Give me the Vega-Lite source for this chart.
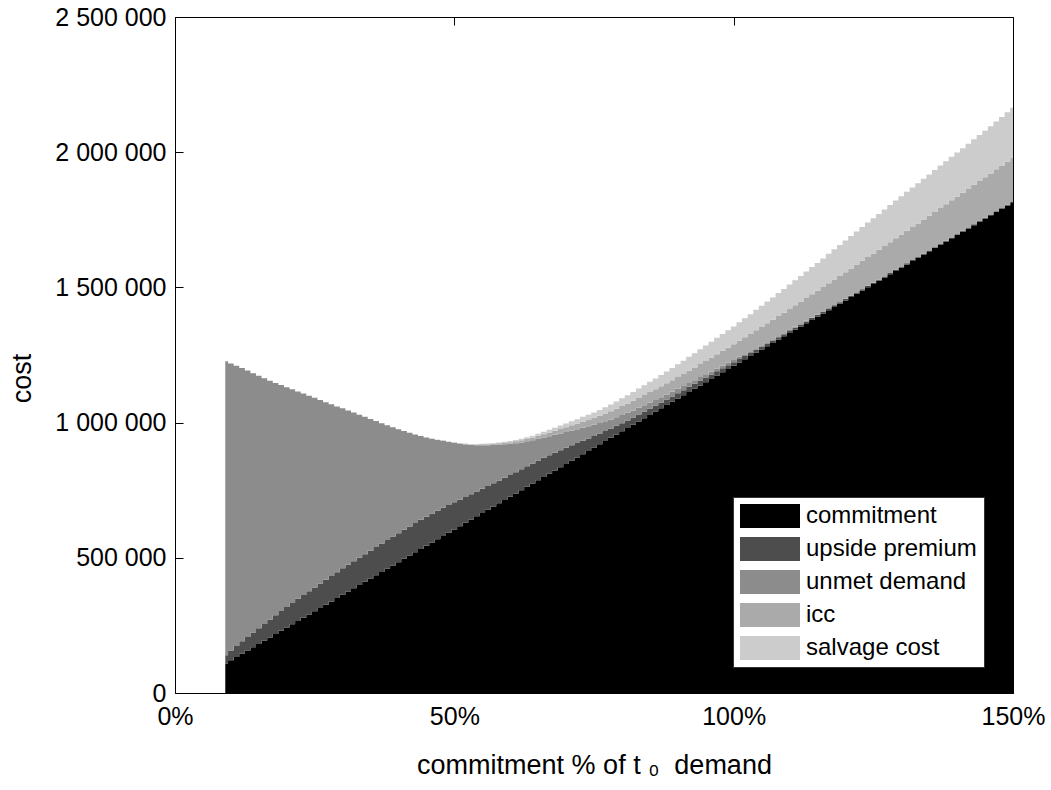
{
"$schema": "https://vega.github.io/schema/vega-lite/v6.json",
"width": 838, "height": 676,
"autosize": {"type": "none"},
"padding": {"left": 175, "top": 17, "right": 38, "bottom": 97},
"background": "white",
"config": {"view": {"stroke": null}, "font": "Liberation Sans"},
"datasets": {
"parts": [
{"key": "c", "part": "commitment", "rank": 1},
{"key": "u", "part": "upside premium", "rank": 2},
{"key": "d", "part": "unmet demand", "rank": 3},
{"key": "i", "part": "icc", "rank": 4},
{"key": "s", "part": "salvage cost", "rank": 5}
],
"costs": [
{"x":9,"c":108900,"u":31000,"d":1087000,"i":0,"s":0},
{"x":10,"c":121000,"u":36000,"d":1061500,"i":0,"s":0},
{"x":11,"c":133100,"u":41000,"d":1036000,"i":0,"s":0},
{"x":12,"c":145200,"u":46000,"d":1010500,"i":0,"s":0},
{"x":13,"c":157300,"u":50000,"d":985000,"i":0,"s":0},
{"x":14,"c":169400,"u":54000,"d":959500,"i":0,"s":0},
{"x":15,"c":181500,"u":58000,"d":934000,"i":0,"s":0},
{"x":16,"c":193600,"u":62000,"d":908500,"i":0,"s":0},
{"x":17,"c":205700,"u":66000,"d":883000,"i":0,"s":0},
{"x":18,"c":217800,"u":70000,"d":859000,"i":0,"s":0},
{"x":19,"c":229900,"u":73000,"d":836000,"i":0,"s":0},
{"x":20,"c":242000,"u":76000,"d":813000,"i":0,"s":0},
{"x":21,"c":254100,"u":79000,"d":790000,"i":0,"s":0},
{"x":22,"c":266200,"u":82000,"d":767000,"i":0,"s":0},
{"x":23,"c":278300,"u":84000,"d":745000,"i":0,"s":0},
{"x":24,"c":290400,"u":86000,"d":723000,"i":0,"s":0},
{"x":25,"c":302500,"u":88000,"d":701000,"i":0,"s":0},
{"x":26,"c":314600,"u":90000,"d":679000,"i":0,"s":0},
{"x":27,"c":326700,"u":92000,"d":657000,"i":0,"s":0},
{"x":28,"c":338800,"u":94000,"d":635000,"i":0,"s":0},
{"x":29,"c":350900,"u":96000,"d":613000,"i":0,"s":0},
{"x":30,"c":363000,"u":98000,"d":592000,"i":0,"s":0},
{"x":31,"c":375100,"u":99000,"d":571000,"i":0,"s":0},
{"x":32,"c":387200,"u":100000,"d":550000,"i":0,"s":0},
{"x":33,"c":399300,"u":101000,"d":529000,"i":0,"s":0},
{"x":34,"c":411400,"u":102000,"d":508000,"i":0,"s":0},
{"x":35,"c":423500,"u":103000,"d":487000,"i":0,"s":0},
{"x":36,"c":435600,"u":104000,"d":466000,"i":0,"s":0},
{"x":37,"c":447700,"u":105000,"d":445000,"i":0,"s":0},
{"x":38,"c":459800,"u":106000,"d":424000,"i":0,"s":0},
{"x":39,"c":471900,"u":107000,"d":404000,"i":0,"s":0},
{"x":40,"c":484000,"u":107000,"d":384000,"i":0,"s":0},
{"x":41,"c":496100,"u":108000,"d":364500,"i":0,"s":0},
{"x":42,"c":508200,"u":108000,"d":346000,"i":0,"s":0},
{"x":43,"c":520300,"u":108000,"d":327500,"i":0,"s":0},
{"x":44,"c":532400,"u":108000,"d":310000,"i":0,"s":0},
{"x":45,"c":544500,"u":107000,"d":293500,"i":0,"s":0},
{"x":46,"c":556600,"u":106000,"d":277500,"i":500,"s":300},
{"x":47,"c":568700,"u":105000,"d":262000,"i":600,"s":400},
{"x":48,"c":580800,"u":104000,"d":248000,"i":700,"s":500},
{"x":49,"c":592900,"u":102000,"d":233500,"i":900,"s":700},
{"x":50,"c":605000,"u":100000,"d":220000,"i":1000,"s":1000},
{"x":51,"c":617100,"u":98000,"d":207000,"i":1300,"s":1200},
{"x":52,"c":629200,"u":96000,"d":194000,"i":1700,"s":1400},
{"x":53,"c":641300,"u":94000,"d":182000,"i":2100,"s":1600},
{"x":54,"c":653400,"u":92000,"d":171000,"i":2500,"s":1800},
{"x":55,"c":665500,"u":90000,"d":161000,"i":3000,"s":2000},
{"x":56,"c":677600,"u":88000,"d":151000,"i":3500,"s":2400},
{"x":57,"c":689700,"u":86000,"d":142000,"i":4000,"s":2800},
{"x":58,"c":701800,"u":84000,"d":133000,"i":4700,"s":3200},
{"x":59,"c":713900,"u":82000,"d":124000,"i":5300,"s":3600},
{"x":60,"c":726000,"u":80000,"d":115500,"i":6000,"s":4000},
{"x":61,"c":738100,"u":78000,"d":107500,"i":7000,"s":4800},
{"x":62,"c":750200,"u":77000,"d":99500,"i":8000,"s":5600},
{"x":63,"c":762300,"u":76000,"d":92500,"i":9000,"s":6400},
{"x":64,"c":774400,"u":74000,"d":86000,"i":10000,"s":7200},
{"x":65,"c":786500,"u":73000,"d":80500,"i":11000,"s":8000},
{"x":66,"c":798600,"u":71000,"d":75000,"i":12500,"s":9000},
{"x":67,"c":810700,"u":69000,"d":70000,"i":14000,"s":10000},
{"x":68,"c":822800,"u":66000,"d":66000,"i":15300,"s":11300},
{"x":69,"c":834900,"u":63000,"d":62000,"i":16600,"s":12600},
{"x":70,"c":847000,"u":60000,"d":58000,"i":18000,"s":14000},
{"x":71,"c":859100,"u":57000,"d":54500,"i":19500,"s":15200},
{"x":72,"c":871200,"u":53000,"d":51000,"i":21000,"s":16400},
{"x":73,"c":883300,"u":50000,"d":48000,"i":22300,"s":17600},
{"x":74,"c":895400,"u":46000,"d":45000,"i":23600,"s":18800},
{"x":75,"c":907500,"u":43000,"d":42000,"i":25000,"s":20000},
{"x":76,"c":919600,"u":40000,"d":39000,"i":26700,"s":21700},
{"x":77,"c":931700,"u":37000,"d":36500,"i":28300,"s":23300},
{"x":78,"c":943800,"u":34000,"d":34000,"i":30000,"s":25000},
{"x":79,"c":955900,"u":32000,"d":32000,"i":31500,"s":27000},
{"x":80,"c":968000,"u":30000,"d":30000,"i":33000,"s":29000},
{"x":81,"c":980100,"u":28000,"d":28000,"i":34200,"s":30800},
{"x":82,"c":992200,"u":27000,"d":26000,"i":35400,"s":32600},
{"x":83,"c":1004300,"u":26000,"d":24500,"i":36600,"s":34400},
{"x":84,"c":1016400,"u":25000,"d":23000,"i":37800,"s":36200},
{"x":85,"c":1028500,"u":24000,"d":21500,"i":39000,"s":38000},
{"x":86,"c":1040600,"u":23000,"d":20000,"i":40000,"s":39800},
{"x":87,"c":1052700,"u":22000,"d":19000,"i":41000,"s":41600},
{"x":88,"c":1064800,"u":21000,"d":18000,"i":42000,"s":43400},
{"x":89,"c":1076900,"u":20000,"d":17000,"i":43000,"s":45200},
{"x":90,"c":1089000,"u":20000,"d":16000,"i":44000,"s":47000},
{"x":91,"c":1101100,"u":19000,"d":15000,"i":45000,"s":49000},
{"x":92,"c":1113200,"u":19000,"d":14000,"i":46000,"s":51000},
{"x":93,"c":1125300,"u":18000,"d":13500,"i":47000,"s":53000},
{"x":94,"c":1137400,"u":18000,"d":13000,"i":48000,"s":55000},
{"x":95,"c":1149500,"u":17000,"d":12000,"i":49700,"s":56800},
{"x":96,"c":1161600,"u":16000,"d":11000,"i":51300,"s":58700},
{"x":97,"c":1173700,"u":16000,"d":10500,"i":53000,"s":60500},
{"x":98,"c":1185800,"u":15000,"d":10000,"i":54700,"s":62300},
{"x":99,"c":1197900,"u":14000,"d":9000,"i":56300,"s":64200},
{"x":100,"c":1210000,"u":13000,"d":8500,"i":58000,"s":66000},
{"x":101,"c":1222100,"u":13000,"d":8000,"i":60000,"s":68400},
{"x":102,"c":1234200,"u":12000,"d":7000,"i":62000,"s":70800},
{"x":103,"c":1246300,"u":11000,"d":6500,"i":64000,"s":73200},
{"x":104,"c":1258400,"u":11000,"d":6000,"i":66000,"s":75600},
{"x":105,"c":1270500,"u":10000,"d":5500,"i":68000,"s":78000},
{"x":106,"c":1282600,"u":10000,"d":5000,"i":70000,"s":80400},
{"x":107,"c":1294700,"u":9000,"d":4500,"i":72000,"s":82800},
{"x":108,"c":1306800,"u":9000,"d":4000,"i":74000,"s":85200},
{"x":109,"c":1318900,"u":8000,"d":3700,"i":76000,"s":87600},
{"x":110,"c":1331000,"u":8000,"d":3400,"i":78000,"s":90000},
{"x":111,"c":1343100,"u":8000,"d":3100,"i":80000,"s":92600},
{"x":112,"c":1355200,"u":7000,"d":2800,"i":82000,"s":95200},
{"x":113,"c":1367300,"u":7000,"d":2500,"i":84000,"s":97800},
{"x":114,"c":1379400,"u":7000,"d":2300,"i":86000,"s":100400},
{"x":115,"c":1391500,"u":6000,"d":2100,"i":88000,"s":103000},
{"x":116,"c":1403600,"u":6000,"d":1900,"i":90000,"s":105800},
{"x":117,"c":1415700,"u":6000,"d":1700,"i":92000,"s":108700},
{"x":118,"c":1427800,"u":6000,"d":1500,"i":94000,"s":111500},
{"x":119,"c":1439900,"u":5000,"d":1400,"i":96000,"s":114300},
{"x":120,"c":1452000,"u":5000,"d":1300,"i":98000,"s":117200},
{"x":121,"c":1464100,"u":5000,"d":1200,"i":100000,"s":120000},
{"x":122,"c":1476200,"u":5000,"d":1100,"i":102000,"s":122500},
{"x":123,"c":1488300,"u":5000,"d":1000,"i":104000,"s":125000},
{"x":124,"c":1500400,"u":5000,"d":900,"i":106000,"s":127500},
{"x":125,"c":1512500,"u":4000,"d":800,"i":108000,"s":130000},
{"x":126,"c":1524600,"u":4000,"d":700,"i":110000,"s":132400},
{"x":127,"c":1536700,"u":4000,"d":600,"i":112000,"s":134800},
{"x":128,"c":1548800,"u":4000,"d":500,"i":114000,"s":137200},
{"x":129,"c":1560900,"u":4000,"d":500,"i":116000,"s":139600},
{"x":130,"c":1573000,"u":4000,"d":400,"i":118000,"s":142000},
{"x":131,"c":1585100,"u":4000,"d":400,"i":120000,"s":144200},
{"x":132,"c":1597200,"u":4000,"d":300,"i":122000,"s":146400},
{"x":133,"c":1609300,"u":3000,"d":300,"i":124000,"s":148600},
{"x":134,"c":1621400,"u":3000,"d":300,"i":126000,"s":150800},
{"x":135,"c":1633500,"u":3000,"d":200,"i":128000,"s":153000},
{"x":136,"c":1645600,"u":3000,"d":200,"i":130300,"s":155000},
{"x":137,"c":1657700,"u":3000,"d":200,"i":132500,"s":157000},
{"x":138,"c":1669800,"u":3000,"d":200,"i":134800,"s":159000},
{"x":139,"c":1681900,"u":3000,"d":100,"i":137000,"s":161000},
{"x":140,"c":1694000,"u":3000,"d":100,"i":139000,"s":162800},
{"x":141,"c":1706100,"u":3000,"d":100,"i":141000,"s":164700},
{"x":142,"c":1718200,"u":3000,"d":100,"i":143000,"s":166500},
{"x":143,"c":1730300,"u":3000,"d":100,"i":146000,"s":168300},
{"x":144,"c":1742400,"u":3000,"d":100,"i":148000,"s":170200},
{"x":145,"c":1754500,"u":3000,"d":0,"i":150000,"s":172000},
{"x":146,"c":1766600,"u":3000,"d":0,"i":152000,"s":174400},
{"x":147,"c":1778700,"u":3000,"d":0,"i":155000,"s":176800},
{"x":148,"c":1790800,"u":3000,"d":0,"i":157000,"s":179200},
{"x":149,"c":1802900,"u":3000,"d":0,"i":160000,"s":181600},
{"x":150,"c":1815000,"u":3000,"d":0,"i":162000,"s":184000}
]
},
"layer": [
{
"data": {"name": "costs"},
"transform": [
{"fold": ["c", "u", "d", "i", "s"], "as": ["key", "cost"]},
{"lookup": "key", "from": {"data": {"name": "parts"}, "key": "key", "fields": ["part", "rank"]}}
],
"mark": {"type": "area", "interpolate": "step"},
"encoding": {
"x": {"field": "x", "type": "quantitative",
"scale": {"domain": [0, 150], "nice": false, "zero": false},
"axis": {"orient": "bottom", "values": [0, 50, 100, 150], "labelExpr": "datum.value + '%'", "labelFlush": false, "labelOverlap": false,
"grid": false, "domainColor": "black", "tickColor": "black", "tickSize": -8, "labelPadding": 19,
"labelFont": "Liberation Sans", "labelFontSize": 25, "labelColor": "black",
"title": "commitment % of t ₀\u00a0 demand", "titleFont": "Liberation Sans", "titleFontSize": 27, "titleFontWeight": "normal", "titleColor": "black", "titlePadding": 23}},
"y": {"field": "cost", "type": "quantitative", "stack": "zero",
"scale": {"domain": [0, 2500000], "nice": false},
"axis": {"orient": "left", "values": [0, 500000, 1000000, 1500000, 2000000, 2500000],
"labelExpr": "replace(format(datum.value, ','), regexp(',', 'g'), ' ')",
"grid": false, "domainColor": "black", "tickColor": "black", "tickSize": -8, "labelPadding": 17,
"labelFont": "Liberation Sans", "labelFontSize": 25, "labelColor": "black",
"title": "cost", "titleFont": "Liberation Sans", "titleFontSize": 27, "titleFontWeight": "normal", "titleColor": "black", "titlePadding": 18, "titleY": 361}},
"color": {"field": "part", "type": "nominal",
"sort": ["commitment", "upside premium", "unmet demand", "icc", "salvage cost"],
"scale": {"domain": ["commitment", "upside premium", "unmet demand", "icc", "salvage cost"], "range": ["#000000", "#4d4d4d", "#8c8c8c", "#aaaaaa", "#cccccc"]},
"legend": {"orient": "none", "legendX": 558, "legendY": 480, "title": null, "fillColor": "white", "strokeColor": "#333333", "padding": 7,
"symbolType": "M-1,-0.4H1V0.4H-1Z", "symbolSize": 3600, "symbolStrokeWidth": 0, "symbolOpacity": 1, "symbolOffset": 0,
"labelFont": "Liberation Sans", "labelFontSize": 24, "labelColor": "black", "labelOffset": 6, "labelLimit": 400,
"clipHeight": 24, "rowPadding": 9}},
"order": {"field": "rank", "type": "quantitative"}
}
},
{
"data": {"name": "costs"},
"mark": {"type": "point", "opacity": 0},
"encoding": {
"x": {"field": "x", "type": "quantitative", "scale": {"domain": [0, 150], "nice": false, "zero": false},
"axis": {"orient": "top", "values": [0, 50, 100, 150], "labels": false, "title": null, "grid": false, "domainColor": "black", "tickColor": "black", "tickSize": -8}},
"y": {"field": "c", "type": "quantitative", "scale": {"domain": [0, 2500000], "nice": false},
"axis": {"orient": "right", "values": [0, 500000, 1000000, 1500000, 2000000, 2500000], "labels": false, "title": null, "grid": false, "domainColor": "black", "tickColor": "black", "tickSize": -8}}
}
}
],
"resolve": {"axis": {"x": "independent", "y": "independent"}}
}
